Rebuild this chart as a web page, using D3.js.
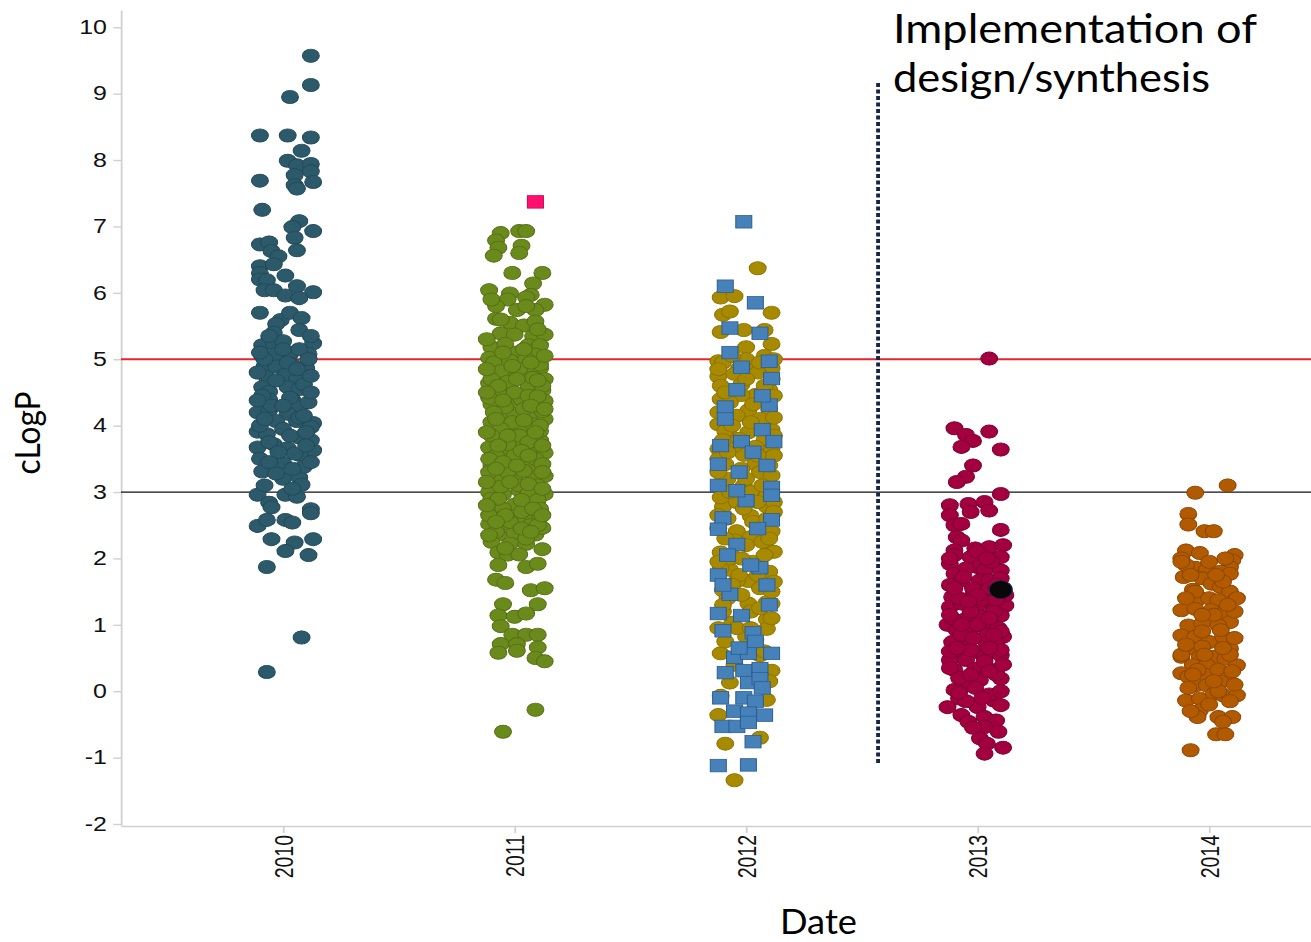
<!DOCTYPE html>
<meta charset="utf-8">
<style>
  body { margin: 0; background: #fff; }
  .axis text { font-family: "Liberation Sans", Arial, sans-serif; font-size: 19.5px; fill: #111; }
  .axis path, .axis line { stroke: #d0d0d0; stroke-width: 1.4; }
  .label { font-family: Lato, "Open Sans", sans-serif; fill: #000; }
</style>
<body>
<div id="chart"></div>
<script src="https://d3js.org/d3.v7.min.js"></script>
<script>
// categories and ticks
var years = ["2010", "2011", "2012", "2013", "2014"];
var yTicks = [-2, -1, 0, 1, 2, 3, 4, 5, 6, 7, 8, 9, 10];

// points: [jitter (in years), cLogP]
var pts2010 = [
  [.12,9.57],[.12,9.13],[.03,8.95],[-.10,8.37],[.02,8.37],[.12,8.34],[.08,8.14],[.02,7.99],[.06,7.92],[.12,7.94],
  [.12,7.83],[.05,7.77],[.13,7.67],[-.10,7.69],[.05,7.62],[.06,7.57],[-.09,7.25],[.07,7.08],[.04,6.99],[.13,6.93],
  [.05,6.83],[-.10,6.73],[-.06,6.76],[.06,6.64],[-.05,6.63],[-.02,6.55],[-.10,6.40],[-.04,6.43],[-.10,6.30],[.01,6.26],
  [-.10,6.20],[-.07,6.19],[.06,6.10],[-.08,6.04],[-.04,6.04],[.13,6.01],[.01,5.96],[.07,5.92],
  [-.10,5.70],[-.01,5.59],[.03,5.70],[-.03,5.53],[.08,5.62],[.07,5.44],[-.04,5.40],[-.09,5.21],[-.04,5.24],[0,5.27],
  [.13,5.24],[.11,5.08],[-.09,5.05],[-.03,5.08],[.03,5.08],[.07,5.15],[-.08,4.89],[-.03,4.89],[.04,4.92],[.10,4.86],
  [-.07,4.73],[.01,4.77],[.06,4.70],[-.09,4.58],[-.06,4.51],[.02,4.58],[.07,4.55],[.04,4.39],[-.06,4.39],[.07,4.29],
  [-.11,4.20],[-.06,4.23],[.02,4.18],[.13,4.04],[-.03,4.07],[.06,4.07],[-.11,3.91],[-.07,3.87],[.12,3.98],[.07,3.82],
  [-.11,3.67],[-.04,3.72],[.02,3.66],[.13,3.63],[.12,3.78],[.07,3.56],[0,3.44],[-.09,3.31],[0,3.20],[.07,3.22],
  [.08,3.11],[-.11,2.96],[.01,2.96],[.06,2.93],[-.06,2.84],[.12,2.74],[-.05,2.77],[.12,2.68],[-.11,2.49],[-.07,2.58],
  [.01,2.58],[.04,2.54],[-.05,2.29],[.05,2.24],[.13,2.29],[.01,2.11],[.11,2.05],[-.07,1.87],[.08,0.81],[-.07,0.29],
  [-.08,5.0],[.02,4.95],[.06,4.85],[-.03,4.68],[.09,4.62],[-.09,4.45],[.03,4.42],[.11,4.35],[-.05,4.3],[.07,4.12],
  [-.10,4.0],[0,3.95],[.10,3.9],[-.06,3.75],[.05,3.58],[-.10,3.5],[.09,3.38],[-.03,3.28],[.12,3.45],[-.08,3.1],
  [.04,3.05],[0,5.15],[-.10,5.1],[.11,5.0],
  [-.11,4.8],[.12,4.75],[.12,4.5],[-.11,4.38],[0,4.3],[.09,4.15],[-.08,4.1],[.03,3.85],[-.02,3.6],[.10,3.7],
  [-.06,3.45],[.04,3.35],[.12,5.35],[-.06,5.35]
];
var pts2011 = [
  [-.06,6.90],[.02,6.93],[.05,6.93],[-.08,6.79],[-.07,6.68],[.03,6.71],[.02,6.60],[-.09,6.56],[-.01,6.30],[.12,6.30],
  [.08,6.14],[-.11,6.04],[-.02,5.99],[.07,5.97],[-.03,5.90],[.05,5.93],[.13,5.82],[-.08,5.80],[.01,5.74],[.09,5.74],
  [-.08,5.61],[-.02,5.55],[.04,5.51],[.09,5.57],[-.06,5.39],[0,5.37],[.08,5.35],[.13,5.37],[-.10,5.18],[-.04,5.23],
  [.06,5.21],[.11,5.21],[.01,5.10],[-.11,5.02],[.09,5.07],[-.09,4.88],[.04,4.91],[.11,4.86],[-.11,4.64],[-.04,4.75],
  [.02,4.77],[.07,4.80],[.13,4.70],[-.09,4.53],[-.03,4.56],[.06,4.61],[.12,4.53],[-.10,4.32],[-.02,4.37],[.03,4.40],
  [.09,4.32],[.13,4.37],[-.10,4.05],[-.06,4.16],[0,4.18],[.08,4.16],[.13,4.10],[-.08,3.83],[-.02,3.97],[.03,3.97],
  [.07,3.83],[.11,3.78],[-.11,3.67],[-.05,3.62],[0,3.70],[.09,3.67],[.13,3.59],[-.10,3.40],[-.03,3.38],[.03,3.46],
  [.06,3.38],[.13,3.24],[-.10,3.19],[-.06,3.24],[0,3.21],[.08,3.19],[-.11,3.00],[-.05,2.97],[.02,3.03],[.08,2.92],
  [.13,2.97],[-.09,2.81],[0,2.81],[.05,2.68],[.11,2.62],[-.11,2.52],[-.05,2.52],[.01,2.60],[-.07,2.36],[0,2.38],
  [.09,2.36],[.12,2.46],[-.10,2.25],[-.02,2.22],[.05,2.22],[.12,2.14],[-.07,2.09],[-.03,2.06],[.02,2.06],[-.07,1.90],
  [.05,1.87],[.10,1.92],[-.08,1.68],[-.04,1.63],[.07,1.52],[.13,1.55],[-.05,1.31],[.10,1.31],[-.07,1.14],[0,1.12],
  [.05,1.17],[-.06,0.98],[-.01,0.85],[.05,0.85],[.10,0.85],[-.06,0.71],[.01,0.71],[.10,0.66],[-.07,0.58],[.01,0.61],
  [.09,0.50],[.13,0.45],[.09,-0.28],[-.05,-0.61],
  [-.09,4.95],[-.02,4.98],[.05,5.0],[.11,4.92],[-.06,4.82],[.02,4.85],[.08,4.72],[-.10,4.7],[-.03,4.66],[.12,4.6],
  [-.07,4.48],[0,4.5],[.06,4.45],[-.11,4.42],[.10,4.44],[-.04,4.28],[.04,4.25],[.12,4.22],[-.09,4.2],[-.01,4.05],
  [.08,4.02],[-.06,3.95],[.11,3.92],[-.10,3.85],[.02,3.85],[.06,3.75],[-.03,3.72],[-.08,3.55],[0,3.55],[.09,3.5],
  [.12,3.42],[-.11,3.3],[-.03,3.3],[.04,3.32],[.10,3.1],[-.06,3.08],[.02,3.1],[-.10,2.9],[.06,2.98],[.10,2.88],
  [-.05,2.75],[.03,2.7],[-.11,2.65],[.11,2.75],[-.02,2.55],[.07,2.5],[-.08,2.4],[.05,2.3],[.10,2.5],[-.04,2.15],
  [-.12,4.85],[-.01,4.9],[.07,4.95],[.13,5.05],[-.07,4.6],[.01,4.7],[.10,4.68],[-.12,4.5],[-.05,4.38],[.07,4.3],
  [.13,4.25],[-.08,4.1],[.04,4.08],[.11,4.0],[-.12,3.9],[-.03,3.85],[.09,3.9],[-.07,3.7],[.03,3.62],[.12,3.7],
  [-.11,3.5],[-.05,3.45],[.06,3.55],[.12,3.3],[-.08,3.35],[.01,3.4],[-.12,3.15],[-.02,3.15],[.06,3.12],[.12,3.05],
  [-.07,2.9],[.03,2.88],[-.12,2.8],[.08,2.75],[-.04,2.65],[.12,2.65],[-.08,2.55],[.03,2.45],[-.11,2.35],[.07,2.4],
  [-.05,5.1],[.04,5.15],[-.12,5.3],[.10,5.45],[-.06,5.6],[.05,5.8],[-.10,5.9]
];
var sq2011 = [[.09,7.37]];
var pts2012 = [
  [.05,6.37],[-.11,5.93],[-.05,5.95],[-.10,5.67],[-.07,5.72],[.11,5.70],[-.11,5.41],[-.01,5.44],[.08,5.44],[.11,5.23],
  [0,5.18],[-.12,4.97],[-.03,4.86],[.11,4.86],[.01,4.92],[-.12,4.74],[.04,4.46],[-.02,4.46],[.10,4.54],[-.11,4.40],
  [-.10,4.08],[.01,4.23],[.06,3.97],[-.12,4.02],[.11,3.94],[-.07,3.85],[-.12,3.65],[-.01,3.56],[.08,3.51],[.11,3.65],
  [-.09,3.42],[.04,3.42],[-.11,3.13],[-.01,3.10],[.09,2.78],[-.10,2.78],[.02,2.64],[.11,2.41],[-.04,2.41],[-.05,2.27],
  [.02,2.32],[-.11,2.09],[.04,1.92],[-.06,2.04],[.10,2.12],[-.07,1.83],[.01,1.66],[-.04,1.66],[-.10,1.52],[.01,1.32],
  [.09,1.34],[.11,1.32],[-.10,1.20],[-.06,1.03],[.09,1.08],[.09,0.94],[0,0.82],[.04,0.77],[-.11,0.57],[.06,0.54],
  [-.07,0.13],[-.11,-0.07],[.11,0.31],[.09,-0.13],[-.12,-0.36],[.06,-0.70],[-.09,-0.79],[-.05,-1.34],
  [-.10,4.95],[0,5.0],[.08,5.05],[-.05,4.78],[.05,4.8],[.11,4.7],[-.11,4.6],[-.02,4.62],[.08,4.6],[-.07,4.35],
  [.03,4.32],[.10,4.25],[-.12,4.2],[-.04,4.15],[.06,4.1],[.12,4.12],[-.09,3.92],[.01,3.9],[.08,3.8],[-.05,3.7],
  [.04,3.68],[.12,3.55],[-.12,3.5],[-.02,3.35],[.06,3.3],[.11,3.25],[-.08,3.2],[.02,3.0],[.09,2.95],[-.11,2.92],
  [-.04,2.85],[.12,2.85],[-.08,2.6],[.03,2.55],[.09,2.6],[-.12,2.45],[0,2.2],[.07,2.25],[.12,2.1],[-.07,2.0],
  [.03,1.95],[-.11,1.85],[.10,1.8],[-.03,1.75],[.06,1.55],[-.08,1.4],[.11,1.5],[.02,1.2],[-.04,0.95],[.08,0.6],
  [-.09,0.75],
  [-.12,4.85],[-.06,5.05],[.06,4.95],[.12,5.0],[-.09,4.5],[0,4.7],[.12,4.45],[-.06,4.0],[.02,4.05],[.12,3.85],
  [-.10,3.78],[-.03,3.8],[.05,3.55],[-.08,3.6],[.10,3.4],[-.12,3.3],[0,3.2],[.07,3.1],[-.07,3.0],[.12,2.7],
  [-.12,2.65],[-.01,2.75],[.05,2.85],[-.09,2.3],[.10,2.3],[-.02,2.0],[.08,2.05],[-.12,1.95],[.05,1.75],[-.06,1.6],
  [.12,1.65],[-.10,1.3],[-.02,1.45],[.06,1.25],[-.12,0.95],[.11,1.1],[.02,0.95],[-.05,0.4],[.10,0.15]
];
var sq2012 = [
  [-.01,7.07],[-.09,6.10],[.04,5.85],[-.07,5.47],[.06,5.39],[-.07,5.10],[.10,4.97],[.11,4.71],[-.04,4.54],[-.09,4.28],
  [.10,4.31],[.07,3.94],[-.02,3.76],[.12,3.76],[-.12,3.42],[-.03,3.30],[.11,3.07],[-.12,3.10],[0,2.87],[-.10,2.61],
  [.11,2.58],[-.12,2.44],[-.04,2.21],[.06,1.86],[-.12,1.75],[.09,1.60],[-.07,1.46],[-.12,1.17],[-.02,1.14],[-.10,0.91],
  [.03,0.88],[-.05,0.51],[.01,0.57],[.11,0.57],[-.09,0.28],[-.01,0.31],[.06,0.34],[.01,0.13],[.06,0.19],[-.11,-0.10],
  [-.01,-0.10],[.04,-0.15],[-.05,-0.30],[.01,-0.33],[.08,-0.36],[-.10,-0.53],[-.04,-0.53],[.01,-0.47],[.03,-0.76],[-.12,-1.12],
  [.01,-1.11],
  [-.02,4.88],[.07,4.45],[-.09,4.1],[.03,3.6],[-.11,3.7],[.09,3.4],[-.04,3.02],[.11,2.95],[.05,2.45],[-.08,2.05],
  [.02,1.9],[.10,1.3],[-.10,1.6],[.04,0.75],[-.03,0.65],[.07,0.05]
];
var pts2013 = [
  [.05,5.01],[-.10,3.96],[-.05,3.86],[.05,3.91],[-.02,3.77],[-.07,3.68],[.10,3.64],[-.02,3.40],[-.05,3.23],[-.09,3.15],
  [.10,2.97],[-.12,2.80],[-.04,2.82],[.03,2.85],[.05,2.72],[-.12,2.65],[-.03,2.70],[-.10,2.50],[-.07,2.52],[.10,2.43],
  [-.09,2.32],[-.07,2.27],[-.10,2.12],[-.01,2.15],[.05,2.17],[.11,2.20],[-.12,1.92],[-.03,2.02],[.07,1.99],[.10,2.02],
  [-.10,1.77],[0,1.87],[.03,1.82],[.10,1.82],[-.07,1.67],[.01,1.67],[.05,1.67],[-.11,1.42],[-.02,1.45],[.04,1.45],
  [-.12,1.27],[-.07,1.32],[0,1.29],[.07,1.27],[.12,1.29],[-.05,1.09],[.02,1.12],[.10,1.14],[-.13,1.00],[-.09,0.92],
  [-.02,0.97],[.06,1.02],[-.11,0.74],[-.04,0.74],[.03,0.77],[.11,0.82],[-.07,0.59],[0,0.59],[.08,0.72],[-.12,0.47],
  [-.05,0.47],[.03,0.52],[.10,0.54],[-.10,0.32],[-.01,0.34],[.08,0.32],[-.05,0.14],[.01,0.17],[.10,0.19],[-.10,0.02],
  [-.08,-0.11],[.07,-0.14],[.10,-0.21],[-.13,-0.24],[0,-0.24],[-.07,-0.36],[.03,-0.39],[-.04,-0.46],[.08,-0.44],[.03,-0.54],
  [.09,-0.61],[.01,-0.71],[.04,-0.79],[.11,-0.85],[.03,-0.94],
  [-.10,2.05],[0,2.1],[.06,1.95],[-.05,1.85],[.10,1.7],[-.12,1.6],[-.02,1.55],[.05,1.55],[-.08,1.4],[.02,1.38],
  [.12,1.45],[-.03,1.2],[.07,1.2],[-.11,1.1],[0,1.0],[.09,0.95],[-.07,0.85],[.04,0.85],[-.12,0.6],[-.03,0.62],
  [.10,0.62],[.03,0.45],[-.08,0.2],[.08,0.25],[-.01,0.05],[.05,-0.05],[-.05,-0.15],[.10,0.0],
  [-.12,2.0],[.04,2.0],[-.06,1.72],[.08,1.6],[-.10,1.55],[0,1.45],[-.04,1.35],[.08,1.38],[-.12,1.15],[.05,1.1],
  [-.07,1.0],[.10,0.9],[-.02,0.8],[.07,0.85],[-.09,0.65],[.05,0.65],[-.12,0.35],[.05,0.3],[-.03,0.25],[.11,0.4],
  [-.08,-0.02],[.02,-0.1],[-.02,-0.55]
];
var mark2013 = [[.10,1.53]];
var pts2014 = [
  [.08,3.10],[-.06,2.99],[-.09,2.67],[-.09,2.51],[-.02,2.41],[.02,2.41],[-.10,2.12],[-.04,2.08],[.11,2.05],[-.12,2.00],
  [.10,1.97],[-.06,1.86],[-.01,1.83],[.09,1.87],[-.11,1.72],[.05,1.80],[-.03,1.70],[.09,1.77],[-.07,1.53],[.01,1.62],
  [.05,1.57],[.09,1.50],[.12,1.40],[-.04,1.40],[0,1.40],[.04,1.37],[-.12,1.22],[-.06,1.24],[.01,1.22],[.06,1.17],
  [.09,1.04],[-.09,0.99],[-.03,1.02],[.04,0.99],[-.12,0.84],[-.06,0.82],[0,0.74],[.06,0.82],[.09,0.64],[-.07,0.64],
  [-.03,0.67],[-.12,0.52],[-.04,0.52],[.02,0.52],[.07,0.49],[.12,0.39],[-.07,0.39],[-.01,0.39],[-.12,0.27],[-.09,0.22],
  [-.01,0.24],[.04,0.32],[.08,0.19],[-.06,0.09],[-.01,0.09],[.05,0.14],[-.10,-0.14],[-.04,-0.11],[.02,-0.04],[.06,-0.06],
  [.12,-0.06],[.09,-0.15],[-.04,-0.29],[-.05,-0.39],[.04,-0.39],[.10,-0.39],[.06,-0.46],[.03,-0.65],[.07,-0.65],[-.08,-0.89],
  [-.10,1.9],[0,1.95],[.06,1.65],[-.06,1.5],[.02,1.15],[.11,1.2],[-.03,0.9],[.05,0.92],[-.12,0.55],[.09,0.55],
  [-.05,0.32],[.04,0.0],[-.09,0.05],[.10,0.3],
  [-.12,1.95],[.07,2.0],[-.08,1.75],[.03,1.75],[-.10,1.4],[.08,1.3],[-.03,1.15],[-.10,0.7],[.06,0.65],[-.02,0.55],
  [.11,0.8],[-.07,0.25],[.02,0.15],[.11,0.1],[-.08,-0.3],[0,-0.2]
];

// reference levels and the design/synthesis divider (in axis units)
var upperLimit = 5, lowerLimit = 3;
var divider = {at: 2.57, from: -1.11, to: 9.16};

var width = 1311, height = 942;
var stretch = 1.28;   // the source picture is stretched sideways
var margin = {left: 121, right: 0, top: 10, bottom: 116};
var plotBottom = height - margin.bottom;

var svg = d3.select("#chart")
  .append("svg")
    .attr("width", width)
    .attr("height", height);

var g = svg.append("g")
    .attr("transform", "scale(" + stretch + ",1)");

var x = d3.scaleLinear()
  .domain([-0.7, 4.44])
  .range([margin.left / stretch, (width - margin.right) / stretch]);
var y = d3.scaleLinear()
  .domain([-2.03, 10.26])
  .range([plotBottom, margin.top]);

// Y axis (plain hyphen for negatives, as in the source)
g.append("g")
  .attr("class", "axis")
  .attr("transform", "translate(" + x(-0.7) + ",0)")
  .call(d3.axisLeft(y).tickValues(yTicks).tickFormat(function(d) { return String(d); })
    .tickSize(6).tickPadding(5).tickSizeOuter(0));

// X axis, labels turned on their side
g.append("g")
  .attr("class", "axis")
  .attr("transform", "translate(0," + plotBottom + ")")
  .call(d3.axisBottom(x).tickValues(d3.range(years.length)).tickFormat(function(i) { return years[i]; })
    .tickSize(7).tickSizeOuter(0))
  .selectAll("text")
    .attr("transform", "rotate(-90)")
    .attr("x", -9)
    .attr("y", 0)
    .attr("dy", "0.36em")
    .style("text-anchor", "end");

// limit lines
g.append("line")
  .attr("x1", x(-0.7)).attr("x2", x(4.44))
  .attr("y1", y(upperLimit)).attr("y2", y(upperLimit))
  .attr("stroke", "#e3262a").attr("stroke-width", 2);
g.append("line")
  .attr("x1", x(-0.7)).attr("x2", x(4.44))
  .attr("y1", y(lowerLimit)).attr("y2", y(lowerLimit))
  .attr("stroke", "#111").attr("stroke-width", 1.3);

// dots
function dots(data, i, fill, stroke, r) {
  g.append("g")
    .selectAll("circle")
    .data(data)
    .join("circle")
      .attr("cx", function(d) { return x(i + d[0]); })
      .attr("cy", function(d) { return y(d[1]); })
      .attr("r", r || 6.6)
      .attr("fill", fill)
      .attr("stroke", stroke)
      .attr("stroke-width", 0.8);
}
function squares(data, i, fill, stroke) {
  var s = 12.5;
  g.append("g")
    .selectAll("rect")
    .data(data)
    .join("rect")
      .attr("x", function(d) { return x(i + d[0]) - s / 2; })
      .attr("y", function(d) { return y(d[1]) - s / 2; })
      .attr("width", s)
      .attr("height", s)
      .attr("fill", fill)
      .attr("stroke", stroke)
      .attr("stroke-width", 0.8);
}

dots(pts2010, 0, "#2c5a6a", "#234a59");
dots(pts2011, 1, "#6a8a1c", "#566f16");
squares(sq2011, 1, "#ff0f6e", "#d0045a");
dots(pts2012, 2, "#a88a00", "#8c7300");
squares(sq2012, 2, "#4682b9", "#2d5f8f");
dots(pts2013, 3, "#a3003f", "#7d0031");
dots(mark2013, 3, "#080808", "#1a2a5a", 9);
dots(pts2014, 4, "#b25a00", "#8c4600");

// divider
g.append("line")
  .attr("x1", x(divider.at)).attr("x2", x(divider.at))
  .attr("y1", y(divider.to)).attr("y2", y(divider.from))
  .attr("stroke", "#16244a")
  .attr("stroke-width", 3)
  .attr("stroke-dasharray", "4,2.5");

// titles
svg.append("text")
  .attr("class", "label")
  .attr("transform", "translate(40,433) rotate(-90)")
  .attr("text-anchor", "middle")
  .attr("font-size", 35)
  .attr("textLength", 83).attr("lengthAdjust", "spacingAndGlyphs")
  .text("cLogP");

svg.append("text")
  .attr("class", "label")
  .attr("x", 780).attr("y", 934)
  .attr("font-size", 35)
  .attr("textLength", 77).attr("lengthAdjust", "spacingAndGlyphs")
  .text("Date");

svg.append("text")
  .attr("class", "label")
  .attr("x", 893).attr("y", 43)
  .attr("font-size", 40)
  .attr("textLength", 364).attr("lengthAdjust", "spacingAndGlyphs")
  .text("Implementation of");
svg.append("text")
  .attr("class", "label")
  .attr("x", 893).attr("y", 92)
  .attr("font-size", 40)
  .attr("textLength", 317).attr("lengthAdjust", "spacingAndGlyphs")
  .text("design/synthesis");
</script>
</body>
